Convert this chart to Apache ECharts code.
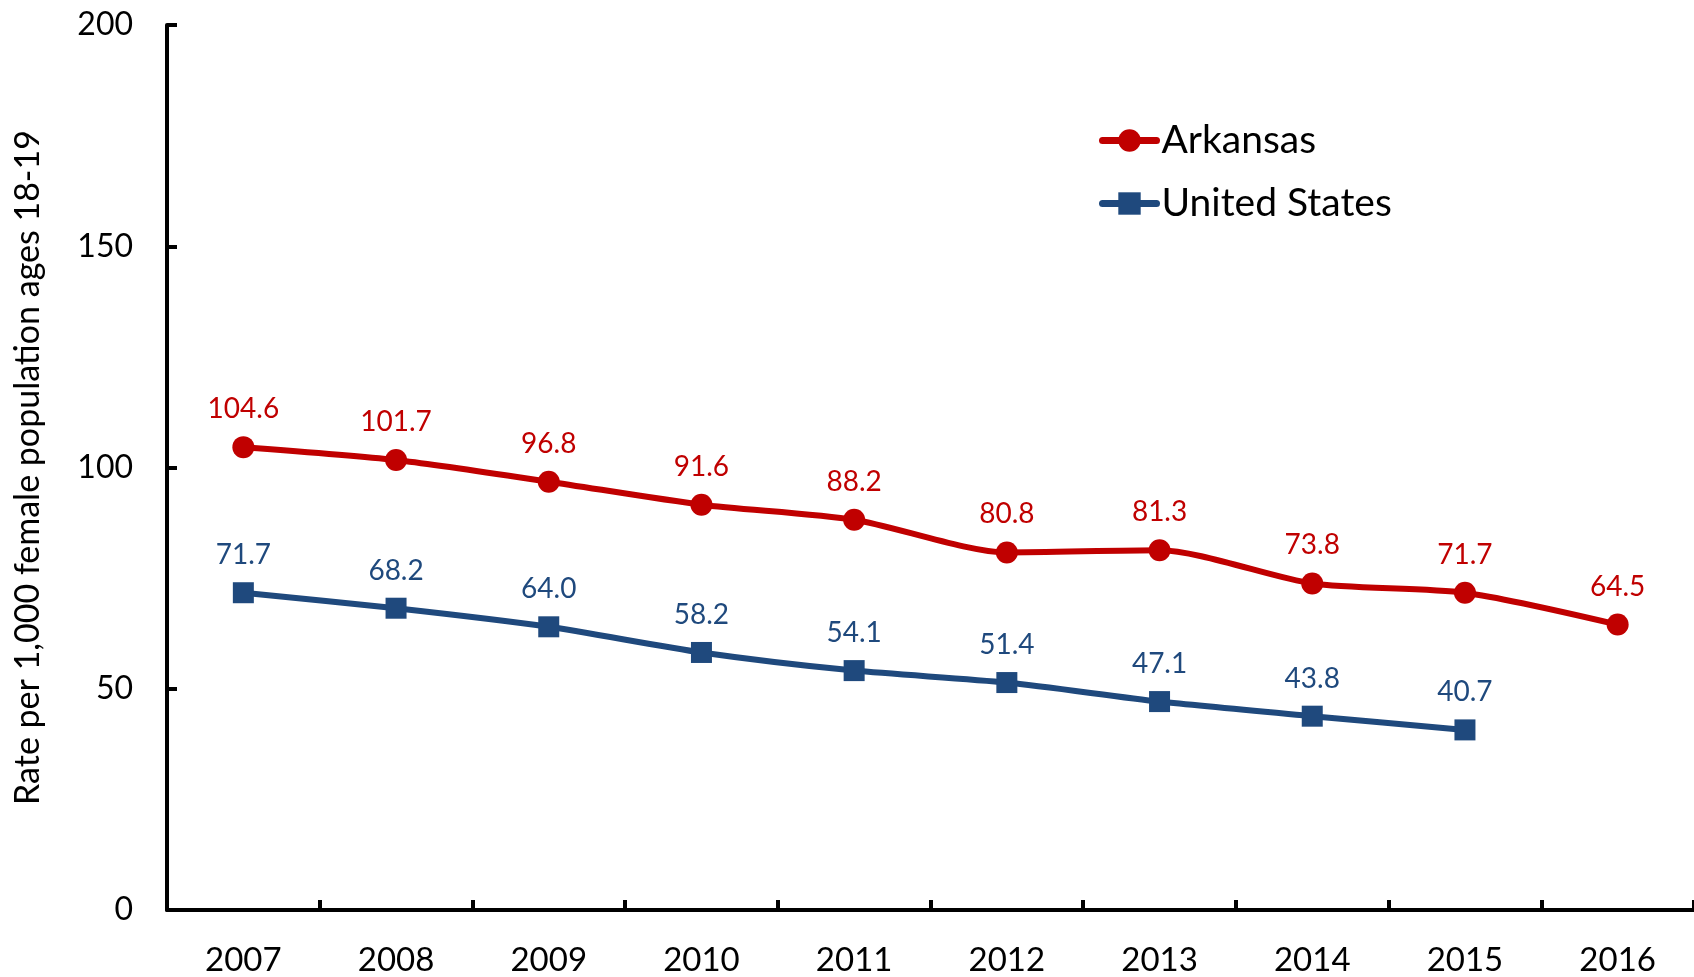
<!DOCTYPE html>
<html>
<head>
<meta charset="utf-8">
<script src="https://cdn.jsdelivr.net/npm/echarts@6/dist/echarts.min.js"></script>
<style>
  html, body { margin: 0; padding: 0; background: #fff; }
  #chart { width: 1694px; height: 977px; }
</style>
</head>
<body>
<div id="chart"></div>
<script>
var years = ['2007', '2008', '2009', '2010', '2011', '2012', '2013', '2014', '2015', '2016'];
var arkansas = [104.6, 101.7, 96.8, 91.6, 88.2, 80.8, 81.3, 73.8, 71.7, 64.5];
var unitedStates = [71.7, 68.2, 64.0, 58.2, 54.1, 51.4, 47.1, 43.8, 40.7, null];
var yTicks = [0, 50, 100, 150, 200];

var FONT = 'Lato';
var RED = '#C00000';
var BLUE = '#1F497D';
var chart = echarts.init(document.getElementById('chart'));

function oneDecimal(p) {
    return p.value == null ? '' : Number(p.value).toFixed(1);
}

chart.setOption({
    animation: false,
    textStyle: { fontFamily: FONT },
    grid: { left: 167, right: 0, top: 25, bottom: 64 },
    legend: {
        orient: 'vertical',
        left: 1094,
        top: 116,
        itemGap: 24,
        itemWidth: 54,
        itemHeight: 28,
        textStyle: { fontFamily: FONT, fontSize: 39, color: '#000' },
        data: [
            { name: 'Arkansas', lineStyle: { width: 7, cap: 'round', color: RED } },
            { name: 'United States', lineStyle: { width: 7, cap: 'round', color: BLUE } }
        ]
    },
    xAxis: {
        type: 'category',
        data: years,
        boundaryGap: true,
        axisLine: { lineStyle: { color: '#000', width: 4 } },
        axisTick: { show: true, inside: true, length: 10, lineStyle: { color: '#000', width: 4 } },
        axisLabel: { fontFamily: FONT, fontSize: 33, color: '#000', margin: 34 }
    },
    yAxis: {
        type: 'value',
        min: yTicks[0],
        max: yTicks[yTicks.length - 1],
        interval: 50,
        name: 'Rate per 1,000 female population ages 18-19',
        nameLocation: 'middle',
        nameGap: 122,
        nameTextStyle: { fontFamily: FONT, fontSize: 34, color: '#000' },
        axisLine: { show: true, lineStyle: { color: '#000', width: 4 } },
        axisTick: { show: true, inside: true, length: 10, lineStyle: { color: '#000', width: 4 } },
        splitLine: { show: false },
        axisLabel: { fontFamily: FONT, fontSize: 32, color: '#000', margin: 34 }
    },
    series: [{
        name: 'Arkansas',
        type: 'line',
        data: arkansas,
        smooth: 0.25,
        symbol: 'circle',
        symbolSize: 22,
        itemStyle: { color: RED },
        lineStyle: { color: RED, width: 6 },
        label: {
            show: true,
            position: 'top',
            distance: 13,
            fontFamily: FONT,
            fontSize: 28,
            color: RED,
            formatter: oneDecimal
        }
    }, {
        name: 'United States',
        type: 'line',
        data: unitedStates,
        smooth: 0.25,
        symbol: 'rect',
        symbolSize: 21,
        itemStyle: { color: BLUE },
        lineStyle: { color: BLUE, width: 6 },
        label: {
            show: true,
            position: 'top',
            distance: 13,
            fontFamily: FONT,
            fontSize: 28,
            color: BLUE,
            formatter: oneDecimal
        }
    }]
});
</script>
</body>
</html>
